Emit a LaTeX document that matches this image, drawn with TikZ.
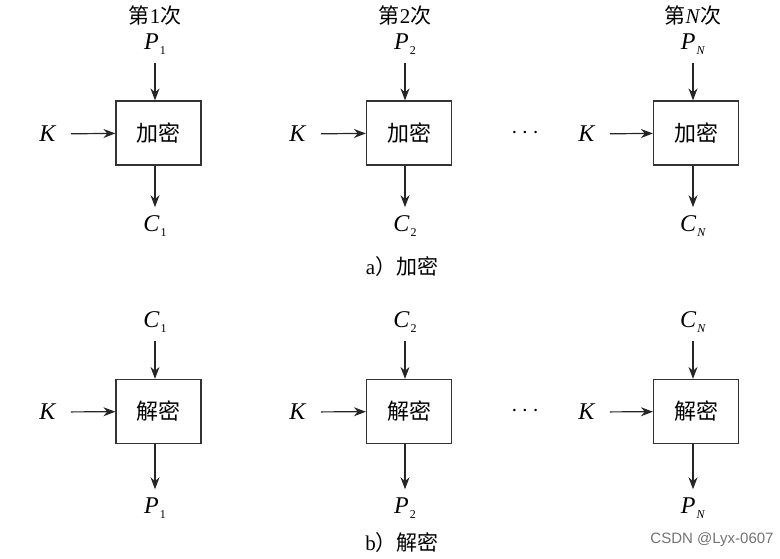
\documentclass[tikz,border=0pt]{standalone}
\usepackage{fontspec}
\setmainfont{Liberation Serif}
\newfontfamily\cjk{Noto Sans CJK SC}
\newfontfamily\wmfont{Liberation Sans}
\usetikzlibrary{positioning, arrows.meta}

% italic letter with a small lowered index
\newcommand{\varsub}[2]{\textit{#1}\kern0.5pt\raisebox{-0.45ex}{\fontsize{6}{7}\selectfont #2}}
% serif text inside a CJK label
\newcommand{\latin}[1]{{\rmfamily #1}}

\begin{document}
\begin{tikzpicture}[
        x=0.5pt, y=-0.5pt,
        % Style for the cipher boxes
        cipherBox/.style={
            rectangle, draw=black!80, line width=0.6pt, fill=white,
            minimum width=42.5pt, minimum height=32pt,
            font=\cjk\fontsize{11}{13}\selectfont
        },
        % Style for the inputs and outputs
        varLabel/.style={font=\fontsize{12}{14}\selectfont, inner sep=2pt},
        roundLabel/.style={font=\cjk\fontsize{10.5}{12}\selectfont, inner sep=1pt},
        caption/.style={font=\cjk\fontsize{10.5}{12}\selectfont},
        line/.style={draw=black!85, line width=0.6pt, -{Stealth[length=6pt, width=4.5pt]}}
    ]
        \useasboundingbox (0,0) rectangle (780,558);

        % --- a) Encryption ---

        % 1. Round 1
        \node [cipherBox] (enc1) at (158.5,133) {加密};
        \node [varLabel] (encP1) at (155,44) {\varsub{P}{1}};
        \node [roundLabel, above=1pt of encP1] (round1) {第\latin{1}次};
        \node [varLabel] (encK1) at (48,134) {\textit{K}};
        \node [varLabel] (encC1) at (155,226) {\varsub{C}{1}};

        % 2. Round 2
        \node [cipherBox] (enc2) at (409,133) {加密};
        \node [varLabel] (encP2) at (405,44) {\varsub{P}{2}};
        \node [roundLabel, above=1pt of encP2] (round2) {第\latin{2}次};
        \node [varLabel] (encK2) at (298,134) {\textit{K}};
        \node [varLabel] (encC2) at (405,226) {\varsub{C}{2}};

        \node [varLabel] (encDots) at (525,133) {$\cdots$};

        % 3. Round N
        \node [cipherBox] (encN) at (696,133) {加密};
        \node [varLabel] (encPN) at (693,44) {\varsub{P}{\textit{N}}};
        \node [roundLabel, above=1pt of encPN] (roundN) {第\latin{\textit{N}}次};
        \node [varLabel] (encKN) at (587,134) {\textit{K}};
        \node [varLabel] (encCN) at (693,226) {\varsub{C}{\textit{N}}};

        \node [caption] (capA) at (402,267) {\latin{a}）加密};

        % --- b) Decryption ---

        \node [cipherBox] (dec1) at (158.5,411.5) {解密};
        \node [varLabel] (decC1) at (155,322) {\varsub{C}{1}};
        \node [varLabel] (decK1) at (48,412) {\textit{K}};
        \node [varLabel] (decP1) at (155,508) {\varsub{P}{1}};

        \node [cipherBox] (dec2) at (409,411.5) {解密};
        \node [varLabel] (decC2) at (405,322) {\varsub{C}{2}};
        \node [varLabel] (decK2) at (298,412) {\textit{K}};
        \node [varLabel] (decP2) at (405,508) {\varsub{P}{2}};

        \node [varLabel] (decDots) at (525,411) {$\cdots$};

        \node [cipherBox] (decN) at (696,411.5) {解密};
        \node [varLabel] (decCN) at (693,322) {\varsub{C}{\textit{N}}};
        \node [varLabel] (decKN) at (587,412) {\textit{K}};
        \node [varLabel] (decPN) at (693,508) {\varsub{P}{\textit{N}}};

        \node [caption] (capB) at (402,543) {\latin{b}）解密};

        % watermark
        \node [font=\wmfont\fontsize{7.5}{9}\selectfont, text=black!55] (mark) at (712,540) {CSDN @Lyx-0607};

        % --- Edges ---

        \path [line, shorten <=2pt] (encP1) -- (encP1 |- enc1.north);
        \path [line, shorten <=5pt] (encK1) -- (enc1);
        \path [line, shorten >=2pt] (encC1 |- enc1.south) -- (encC1);

        \path [line, shorten <=2pt] (encP2) -- (encP2 |- enc2.north);
        \path [line, shorten <=5pt] (encK2) -- (enc2);
        \path [line, shorten >=2pt] (encC2 |- enc2.south) -- (encC2);

        \path [line, shorten <=2pt] (encPN) -- (encPN |- encN.north);
        \path [line, shorten <=5pt] (encKN) -- (encN);
        \path [line, shorten >=2pt] (encCN |- encN.south) -- (encCN);

        \path [line, shorten <=2pt] (decC1) -- (decC1 |- dec1.north);
        \path [line, shorten <=5pt] (decK1) -- (dec1);
        \path [line, shorten >=2pt] (decP1 |- dec1.south) -- (decP1);

        \path [line, shorten <=2pt] (decC2) -- (decC2 |- dec2.north);
        \path [line, shorten <=5pt] (decK2) -- (dec2);
        \path [line, shorten >=2pt] (decP2 |- dec2.south) -- (decP2);

        \path [line, shorten <=2pt] (decCN) -- (decCN |- decN.north);
        \path [line, shorten <=5pt] (decKN) -- (decN);
        \path [line, shorten >=2pt] (decPN |- decN.south) -- (decPN);

    \end{tikzpicture}
\end{document}
